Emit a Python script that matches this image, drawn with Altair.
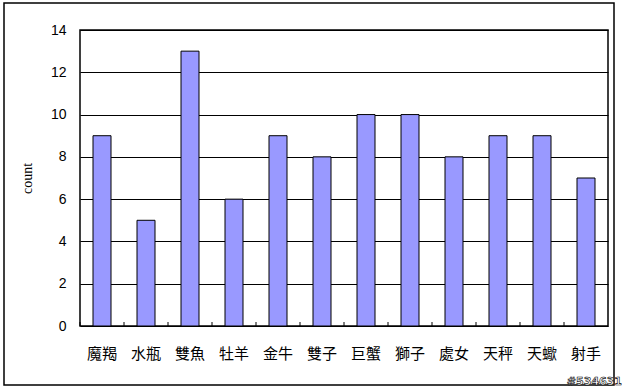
import altair as alt
import pandas as pd

signs = ["魔羯", "水瓶", "雙魚", "牡羊", "金牛", "雙子", "巨蟹", "獅子", "處女", "天秤", "天蠍", "射手"]
counts = [9, 5, 13, 6, 9, 8, 10, 10, 8, 9, 9, 7]
y_ticks = [0, 2, 4, 6, 8, 10, 12, 14]

df = pd.DataFrame({"sign": signs, "count": counts})

W, H = 528, 296
xscale = alt.Scale(domain=signs, paddingInner=0, paddingOuter=0)

bars = alt.Chart(df).mark_bar(width=18, color="#9999FF", stroke="black", strokeWidth=1).encode(
    x=alt.X("sign:N", sort=signs, scale=xscale,
            axis=alt.Axis(title=None, labelAngle=0, ticks=False, domain=False,
                          labelFont="Noto Sans CJK TC", labelFontSize=15, labelColor="black",
                          labelPadding=20, labelBaseline="top")),
    y=alt.Y("count:Q", scale=alt.Scale(domain=[0, 14], nice=False),
            axis=alt.Axis(title="count", values=y_ticks, ticks=False, domain=False,
                          grid=True, gridColor="black", gridOpacity=1, gridWidth=1,
                          labelFont="Liberation Sans", labelFontSize=14, labelColor="black",
                          labelPadding=14,
                          titleFont="Liberation Serif", titleFontSize=14, titleFontWeight="normal",
                          titleColor="black", titlePadding=16)),
)

ticks = alt.Chart(df).mark_rule(color="black", strokeWidth=1).encode(
    x=alt.X("sign:N", sort=signs, scale=xscale, bandPosition=0),
    y=alt.value(H - 4),
    y2=alt.value(H),
)

frame = alt.Chart(df.head(1)).mark_rect(fill=None, stroke="black", strokeWidth=1.5, clip=False).encode(
    x=alt.value(-76), x2=alt.value(534), y=alt.value(-27), y2=alt.value(355)
)

mark = alt.Chart(pd.DataFrame({"t": ["#534631"]})).mark_text(
    align="right", baseline="bottom", fontSize=11, fontWeight="bold",
    font="DejaVu Sans", color="white", stroke="black", strokeWidth=0.6, clip=False
).encode(x=alt.value(W + 14), y=alt.value(H + 61), text="t:N")

chart = alt.layer(bars, ticks, frame, mark).properties(
    width=W, height=H,
    autosize=alt.AutoSizeParams(type="none"),
    padding={"left": 80, "top": 30, "right": 14, "bottom": 61},
    background="white",
).configure_view(stroke="black", strokeWidth=1.5)

chart.save("out.html", embed_options={"renderer": "svg", "actions": False})
